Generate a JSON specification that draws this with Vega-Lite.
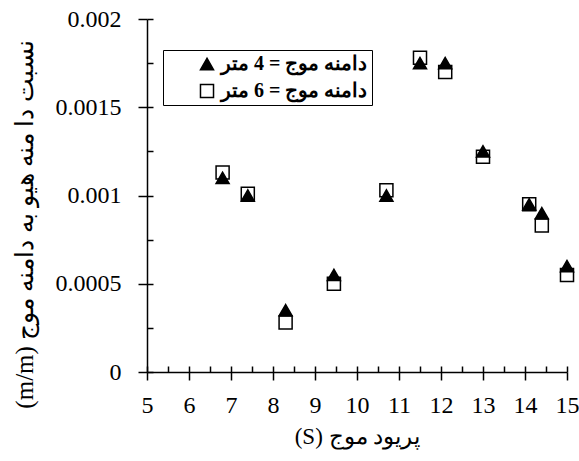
{
  "$schema": "https://vega.github.io/schema/vega-lite/v6.json",
  "width": 420,
  "height": 353,
  "autosize": {"type": "none"},
  "padding": {"left": 147, "top": 19, "right": 12, "bottom": 89},
  "background": "white",
  "config": {
    "view": {"stroke": null},
    "font": "Liberation Serif",
    "axis": {"grid": true, "gridColor": "black", "gridOpacity": 1, "gridWidth": 1.5, "domainColor": "black", "domainWidth": 1.5, "tickColor": "black", "tickWidth": 1.5, "labelColor": "black", "titleColor": "black", "labelFont": "Liberation Serif", "titleFont": "Liberation Serif", "titleFontWeight": "normal", "labelFlush": false, "labelOverlap": false}
  },
  "data": {
    "values": [
      {"T": 6.8, "R": 0.00113, "s": "دامنه موج = 6 متر"},
      {"T": 7.4, "R": 0.00101, "s": "دامنه موج = 6 متر"},
      {"T": 8.3, "R": 0.00028, "s": "دامنه موج = 6 متر"},
      {"T": 9.45, "R": 0.0005, "s": "دامنه موج = 6 متر"},
      {"T": 10.7, "R": 0.00103, "s": "دامنه موج = 6 متر"},
      {"T": 11.5, "R": 0.00178, "s": "دامنه موج = 6 متر"},
      {"T": 12.1, "R": 0.0017, "s": "دامنه موج = 6 متر"},
      {"T": 13.0, "R": 0.00122, "s": "دامنه موج = 6 متر"},
      {"T": 14.1, "R": 0.00095, "s": "دامنه موج = 6 متر"},
      {"T": 14.4, "R": 0.00083, "s": "دامنه موج = 6 متر"},
      {"T": 15.0, "R": 0.00055, "s": "دامنه موج = 6 متر"},
      {"T": 6.8, "R": 0.0011, "s": "دامنه موج = 4 متر"},
      {"T": 7.4, "R": 0.001, "s": "دامنه موج = 4 متر"},
      {"T": 8.3, "R": 0.00035, "s": "دامنه موج = 4 متر"},
      {"T": 9.45, "R": 0.00055, "s": "دامنه موج = 4 متر"},
      {"T": 10.7, "R": 0.001, "s": "دامنه موج = 4 متر"},
      {"T": 11.5, "R": 0.00175, "s": "دامنه موج = 4 متر"},
      {"T": 12.1, "R": 0.00175, "s": "دامنه موج = 4 متر"},
      {"T": 13.0, "R": 0.00125, "s": "دامنه موج = 4 متر"},
      {"T": 14.1, "R": 0.00095, "s": "دامنه موج = 4 متر"},
      {"T": 14.4, "R": 0.0009, "s": "دامنه موج = 4 متر"},
      {"T": 15.0, "R": 0.0006, "s": "دامنه موج = 4 متر"}
    ]
  },
  "mark": {"type": "point", "filled": true, "opacity": 1, "stroke": "black", "strokeWidth": 1.5, "size": 170},
  "encoding": {
    "x": {"field": "T", "type": "quantitative", "scale": {"domain": [5, 15], "nice": false, "zero": false},
      "axis": {"orient": "bottom", "title": "(S) پریود موج",
        "values": [5, 5.5, 6, 6.5, 7, 7.5, 8, 8.5, 9, 9.5, 10, 10.5, 11, 11.5, 12, 12.5, 13, 13.5, 14, 14.5, 15],
        "format": "~g",
        "labelExpr": "round(datum.value * 2) % 2 == 0 ? datum.label : ''",
        "tickSize": 8,
        "tickOpacity": {"condition": {"test": "round(datum.value * 2) % 2 == 0", "value": 1}, "value": 0},
        "gridDash": [6, 347], "gridDashOffset": 6,
        "labelFontSize": 24, "labelPadding": 13, "titleFontSize": 23, "titlePadding": 8}},
    "y": {"field": "R", "type": "quantitative", "scale": {"domain": [0, 0.002], "nice": false},
      "axis": {"orient": "left", "title": "(m/m) نسبت دا منه هیو به دامنه موج",
        "values": [0, 0.00025, 0.0005, 0.00075, 0.001, 0.00125, 0.0015, 0.00175, 0.002],
        "format": "~g",
        "labelExpr": "round(datum.value * 4000) % 2 == 0 ? datum.label : ''",
        "tickSize": 9,
        "tickOpacity": {"condition": {"test": "round(datum.value * 4000) % 2 == 0", "value": 1}, "value": 0},
        "gridDash": [6, 2000],
        "labelFontSize": 24, "labelPadding": 17, "titleFontSize": 25, "titlePadding": 18, "titleY": 205}},
    "fill": {"field": "s", "type": "nominal", "scale": {"domain": ["دامنه موج = 4 متر", "دامنه موج = 6 متر"], "range": ["black", "white"]}, "legend": null},
    "shape": {"field": "s", "type": "nominal", "scale": {"domain": ["دامنه موج = 4 متر", "دامنه موج = 6 متر"], "range": ["triangle-up", "square"]},
      "legend": {"title": null, "orient": "none", "legendX": 16, "legendY": 31, "strokeColor": "black", "fillColor": "white", "padding": 4, "symbolOffset": 30, "labelFont": "Liberation Serif", "labelFontSize": 20, "labelFontWeight": "bold", "labelColor": "black", "labelLimit": 300, "rowPadding": 7, "symbolSize": 170, "symbolStrokeWidth": 1.5, "symbolStrokeColor": "black", "symbolFillColor": "black", "symbolOpacity": 1, "labelOffset": 4}}
  }
}
